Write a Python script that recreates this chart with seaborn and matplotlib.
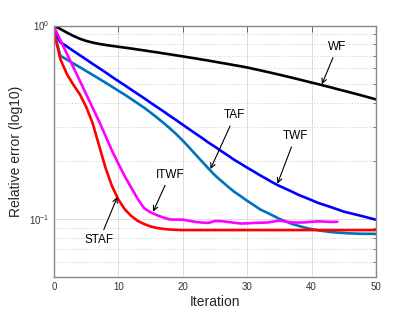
import seaborn as sns
import matplotlib
matplotlib.use('Agg')
import matplotlib.pyplot as plt
import pandas as pd
from matplotlib.ticker import LogLocator, NullFormatter

sns.set_style('white')
plt.rcParams['font.family'] = ['Liberation Sans', 'DejaVu Sans']

# relative error per iteration
wf = [1.000, 0.960, 0.920, 0.885, 0.855, 0.833, 0.817, 0.804, 0.794, 0.785,
      0.777, 0.769, 0.761, 0.752, 0.744, 0.735, 0.727, 0.718, 0.710, 0.701,
      0.693, 0.684, 0.676, 0.667, 0.659, 0.650, 0.641, 0.633, 0.624, 0.616,
      0.607, 0.597, 0.587, 0.577, 0.567, 0.557, 0.547, 0.537, 0.527, 0.517,
      0.507, 0.498, 0.488, 0.479, 0.469, 0.460, 0.451, 0.442, 0.433, 0.424,
      0.415]
twf = [0.935, 0.820, 0.780, 0.740, 0.703, 0.668, 0.634, 0.603, 0.573, 0.543,
       0.516, 0.491, 0.466, 0.443, 0.421, 0.399, 0.379, 0.360, 0.341, 0.324,
       0.307, 0.291, 0.276, 0.262, 0.248, 0.236, 0.224, 0.213, 0.202, 0.193,
       0.184, 0.176, 0.168, 0.161, 0.154, 0.148, 0.143, 0.138, 0.133, 0.129,
       0.125, 0.121, 0.118, 0.115, 0.112, 0.109, 0.107, 0.105, 0.103, 0.101,
       0.099]
taf = [0.923, 0.698, 0.667, 0.637, 0.610, 0.582, 0.556, 0.531, 0.507, 0.483,
       0.460, 0.439, 0.417, 0.396, 0.376, 0.355, 0.334, 0.314, 0.294, 0.274,
       0.254, 0.234, 0.215, 0.198, 0.182, 0.168, 0.157, 0.147, 0.138, 0.131,
       0.124, 0.118, 0.112, 0.108, 0.104, 0.100, 0.097, 0.094, 0.092, 0.090,
       0.0885, 0.0873, 0.0863, 0.0855, 0.0849, 0.0845, 0.0841, 0.0839, 0.0837, 0.0837,
       0.0836]
staf = [0.929, 0.670, 0.562, 0.495, 0.442, 0.380, 0.313, 0.240, 0.184, 0.148,
        0.126, 0.112, 0.1035, 0.0977, 0.0940, 0.0914, 0.0897, 0.0887, 0.0881, 0.0877,
        0.0875, 0.0875, 0.0875, 0.0875, 0.0875, 0.0875, 0.0875, 0.0875, 0.0875, 0.0875,
        0.0875, 0.0875, 0.0875, 0.0875, 0.0875, 0.0875, 0.0875, 0.0875, 0.0875, 0.0875,
        0.0875, 0.0875, 0.0875, 0.0875, 0.0875, 0.0875, 0.0875, 0.0875, 0.0875, 0.0875,
        0.0875]
itwf = [0.989, 0.841, 0.716, 0.610, 0.519, 0.442, 0.376, 0.320, 0.269, 0.226,
        0.193, 0.166, 0.145, 0.127, 0.1135, 0.1081, 0.1045, 0.1016, 0.0993, 0.0991,
        0.0991, 0.0977, 0.0964, 0.0957, 0.0953, 0.0975, 0.0973, 0.0964, 0.0955, 0.0946,
        0.0948, 0.0953, 0.0955, 0.0957, 0.0968, 0.0979, 0.0968, 0.0959, 0.0957, 0.0959,
        0.0966, 0.0971, 0.0968, 0.0964, 0.0966]

series = {'WF': wf, 'TWF': twf, 'TAF': taf, 'STAF': staf, 'ITWF': itwf}
colors = {'WF': 'black', 'TWF': '#0000ff', 'TAF': '#0072bd',
          'STAF': '#ff0000', 'ITWF': '#ff00ff'}

rows = []
for name, vals in series.items():
    for i, v in enumerate(vals):
        rows.append((i, v, name))
df = pd.DataFrame(rows, columns=['iteration', 'error', 'method'])

fig = plt.figure(figsize=(4.15, 3.12), dpi=100)
ax = fig.add_axes([0.130, 0.112, 0.776, 0.806])
sns.lineplot(data=df, x='iteration', y='error', hue='method', palette=colors,
             linewidth=1.9, legend=False, ax=ax)
ax.set_yscale('log')
ax.set_xlim(0, 50)
ax.set_ylim(0.05, 1)
ax.set_xticks([0, 10, 20, 30, 40, 50])
ax.yaxis.set_major_locator(LogLocator(base=10))
ax.yaxis.set_minor_locator(LogLocator(base=10, subs=range(2, 10)))
ax.yaxis.set_minor_formatter(NullFormatter())

ax.grid(True, which='major', axis='both', color='#dcdcdc', lw=0.7, ls='-')
ax.grid(True, which='minor', axis='y', color='#c8c8c8', lw=0.7, ls=(0, (1, 2)))
ax.set_axisbelow(True)

for s in ax.spines.values():
    s.set_color('#888888')
    s.set_linewidth(1.0)
ax.tick_params(which='both', direction='in', top=True, right=True,
               color='#666666', labelsize=7, labelcolor='#333333')
ax.tick_params(which='major', length=4, width=0.7)
ax.tick_params(which='minor', length=2.5, width=0.6)

ax.set_xlabel('Iteration', fontsize=10, color='#262626', labelpad=2)
ax.set_ylabel('Relative error (log10)', fontsize=10, color='#262626', labelpad=4)

arrow = dict(arrowstyle='->', color='black', lw=0.8, shrinkA=1, shrinkB=0)
ann = [('WF', (44.0, 0.774), (41.6, 0.497)),
       ('TAF', (28.1, 0.343), (24.3, 0.181)),
       ('TWF', (37.5, 0.267), (34.7, 0.152)),
       ('ITWF', (18.0, 0.169), (15.4, 0.109)),
       ('STAF', (7.05, 0.0775), (9.85, 0.130))]
for label, txt, tip in ann:
    ax.annotate(label, xy=tip, xytext=txt, ha='center', va='center',
                fontsize=8.5, color='black', arrowprops=arrow)

fig.savefig('out.png', dpi=100)
